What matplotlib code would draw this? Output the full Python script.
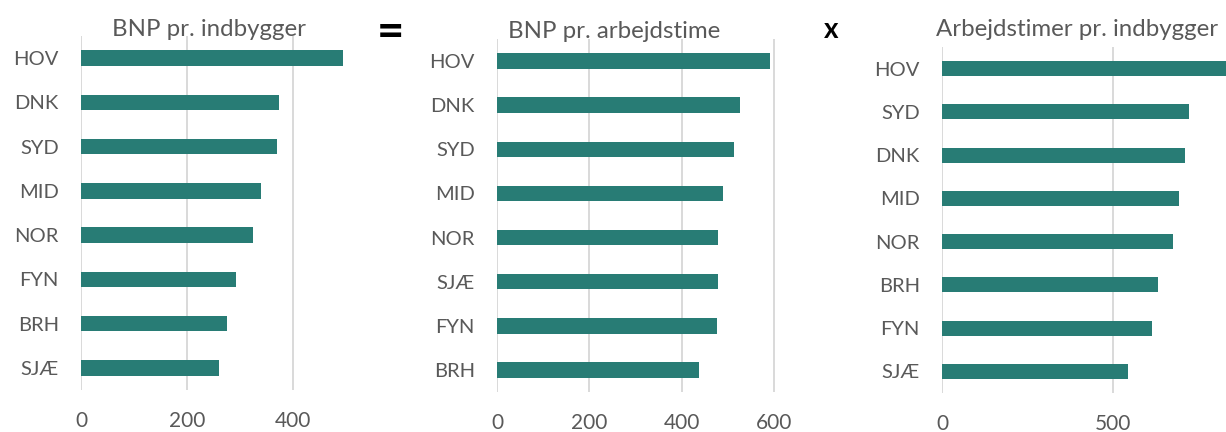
import matplotlib.pyplot as plt

plt.rcParams["font.family"] = ["Lato", "DejaVu Sans"]

# Panel 1: BNP pr. indbygger
cats_1 = ["HOV", "DNK", "SYD", "MID", "NOR", "FYN", "BRH", "SJÆ"]
vals_1 = [495, 373, 369, 339, 324, 292, 275, 260]

# Panel 2: BNP pr. arbejdstime
cats_2 = ["HOV", "DNK", "SYD", "MID", "NOR", "SJÆ", "FYN", "BRH"]
vals_2 = [591, 525, 512, 489, 479, 478, 476, 437]

# Panel 3: Arbejdstimer pr. indbygger
cats_3 = ["HOV", "SYD", "DNK", "MID", "NOR", "BRH", "FYN", "SJÆ"]
vals_3 = [838, 722, 710, 693, 674, 629, 613, 543]

titles = ["BNP pr. indbygger", "BNP pr. arbejdstime", "Arbejdstimer pr. indbygger"]
ticks = [[0, 200, 400], [0, 200, 400, 600], [0, 500]]
xlims = [(0, 500), (0, 620), (0, 850)]

BAR = "#287c75"
GRID = "#d9d9d9"
TXT = "#595959"

W, H = 1226, 432
fig = plt.figure(figsize=(W / 100, H / 100), dpi=100)

# axes boxes in pixels: left, top, right(at xmax), bottom
boxes = [
    (81, 36, 81 + 500 * 0.53, 390),
    (497, 39, 497 + 620 * 0.462, 392),
    (942, 47, 942 + 850 * 0.3427, 393),
]
title_pos = [(209, 30), (614, 31), (1077, 30)]

data = [(cats_1, vals_1), (cats_2, vals_2), (cats_3, vals_3)]

for i, (cats, vals) in enumerate(data):
    l, t, r, b = boxes[i]
    ax = fig.add_axes([l / W, (H - b) / H, (r - l) / W, (b - t) / H])
    ypos = list(range(len(cats)))
    ax.barh(ypos, vals, height=0.35, color=BAR, zorder=3)
    ax.set_ylim(len(cats) - 0.5, -0.5)
    ax.set_xlim(*xlims[i])
    ax.set_yticks(ypos)
    ax.set_yticklabels(cats)
    ax.set_xticks(ticks[i])
    ax.grid(axis="x", color=GRID, linewidth=1.4, zorder=0)
    for s in ax.spines.values():
        s.set_visible(False)
    ax.tick_params(axis="both", length=0, colors=TXT)
    ax.tick_params(axis="y", pad=16, labelsize=14.5)
    ax.tick_params(axis="x", pad=15, labelsize=15)
    tx, ty = title_pos[i]
    fig.text(tx / W, 1 - ty / H, titles[i], ha="center", va="center",
             fontsize=17.3, color=TXT)

fig.text(390 / W, 1 - 33 / H, "=", ha="center", va="center",
         fontsize=34, fontweight="bold", color="black")
fig.text(831 / W, 1 - 30 / H, "x", ha="center", va="center",
         fontsize=20, fontweight="bold", color="black")

fig.savefig("out.png", dpi=100)
